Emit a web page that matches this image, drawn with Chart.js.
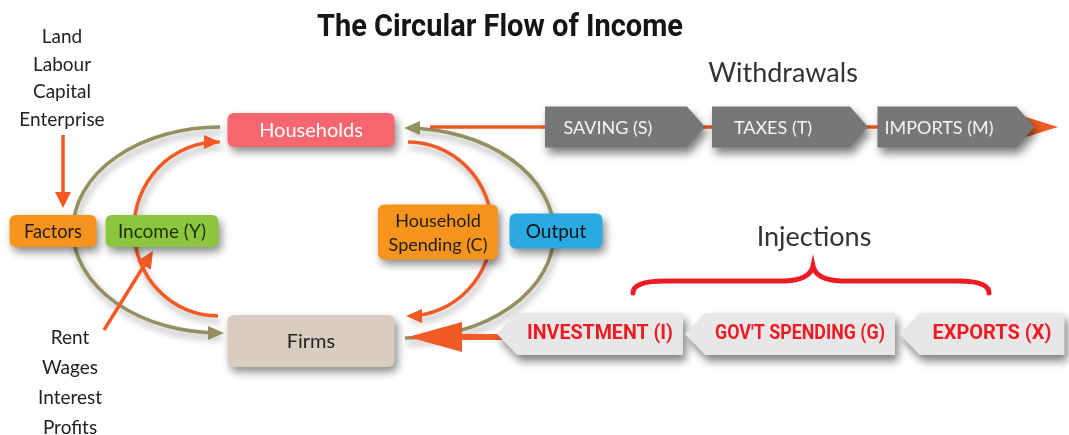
<!DOCTYPE html>
<html>
<head>
<meta charset="utf-8">
<script src="https://cdn.jsdelivr.net/npm/chart.js@4.4.1/dist/chart.umd.min.js"></script>
<style>
    html, body { margin: 0; padding: 0; background: #fff; }
    #wrap { width: 1069px; height: 435px; }
</style>
</head>
<body>
<div id="wrap"><canvas id="fluxo" width="1069" height="435"></canvas></div>
<script>
// Caixas do diagrama (centros, em unidades do diagrama 0..1069 x 0..435)
const caixas = ['Households', 'Firms', 'Factors', 'Income (Y)', 'Household|Spending (C)', 'Output'];
const caixasX = [311, 311, 53, 162, 438, 556];
const caixasY = [130, 341, 231, 231, 232, 231];

// Retiradas (withdrawals) e injeções
const retiradas = ['SAVING (S)', 'TAXES (T)', 'IMPORTS (M)'];
const retiradasX = [616, 781, 947];
const retiradasY = [127, 127, 127];

const injecoes = ['INVESTMENT (I)', "GOV'T SPENDING (G)", 'EXPORTS (X)'];
const injecoesX = [600, 800, 992];
const injecoesY = [334, 334, 334];

// Textos soltos
const fatores = ['Land', 'Labour', 'Capital', 'Enterprise'];
const rendas = ['Rent', 'Wages', 'Interest', 'Profits'];
const titulo = 'The Circular Flow of Income';

// estilo das caixas (largura, altura, cor de fundo, cor do texto)
const estiloCaixas = [
    { w: 167, h: 34, fundo: '#f8676f', texto: '#ffffff', fonte: '20px Lato', maxW: 110 },
    { w: 167, h: 52, fundo: '#d9cdbf', texto: '#222222', fonte: '20px Lato', maxW: 60 },
    { w: 87, h: 32, fundo: '#f7941e', texto: '#1e1e1e', fonte: '19px Lato', maxW: 58 },
    { w: 113, h: 32, fundo: '#8cc63f', texto: '#1f2f10', fonte: '19px Lato', maxW: 92 },
    { w: 120, h: 55, fundo: '#f7941e', texto: '#1e1e1e', fonte: '18px Lato', maxW: 104 },
    { w: 93, h: 35, fundo: '#29abe2', texto: '#111111', fonte: '19px Lato', maxW: 62 }
];
const largRetiradas = [142, 138, 139];
const largInjecoes = [166, 190, 145];

const LARANJA = '#f15a24';
const OLIVA = '#958f60';

function caixa(ctx, x, y, w, h, cor) {
    ctx.save();
    ctx.shadowColor = 'rgba(0,0,0,0.45)';
    ctx.shadowBlur = 9;
    ctx.shadowOffsetX = 3;
    ctx.shadowOffsetY = 5;
    ctx.fillStyle = cor;
    ctx.beginPath();
    ctx.roundRect(x - w / 2, y - h / 2, w, h, 6);
    ctx.fill();
    ctx.restore();
}

function seta(ctx, x, y, dx, dy, tam, larg, cor) {
    // ponta em (x,y), direção (dx,dy)
    const n = Math.hypot(dx, dy);
    const ux = dx / n, uy = dy / n;
    ctx.fillStyle = cor;
    ctx.beginPath();
    ctx.moveTo(x, y);
    ctx.lineTo(x - ux * tam - uy * larg, y - uy * tam + ux * larg);
    ctx.lineTo(x - ux * tam + uy * larg, y - uy * tam - ux * larg);
    ctx.closePath();
    ctx.fill();
}

function arco(ctx, cx, cy, rx, ry, ini, fim, anti, cor) {
    ctx.save();
    ctx.shadowColor = 'rgba(0,0,0,0.35)';
    ctx.shadowBlur = 7;
    ctx.shadowOffsetX = 2;
    ctx.shadowOffsetY = 5;
    ctx.strokeStyle = cor;
    ctx.lineWidth = 3.5;
    ctx.beginPath();
    ctx.ellipse(cx, cy, rx, ry, 0, ini, fim, anti);
    ctx.stroke();
    ctx.restore();
}

const desenhoPlugin = {
    id: 'desenho',
    afterDatasetsDraw(chart) {
        const ctx = chart.ctx;
        const sx = chart.scales.x, sy = chart.scales.y;
        const px = v => sx.getPixelForValue(v);
        const py = v => sy.getPixelForValue(v);
        ctx.save();
        ctx.textAlign = 'center';
        ctx.textBaseline = 'middle';

        // título
        ctx.fillStyle = '#151515';
        ctx.font = 'bold 31px Roboto';
        ctx.fillText(titulo, px(500), py(28), 366);

        // fatores de produção
        ctx.fillStyle = '#222';
        ctx.font = '19px Lato';
        fatores.forEach((t, i) => ctx.fillText(t, px(62), py(37 + i * 27.5)));
        rendas.forEach((t, i) => ctx.fillText(t, px(70), py(338 + i * 30)));

        // arcos
        arco(ctx, px(220), py(230), 147, 103, -Math.PI / 2, Math.PI / 2, true, OLIVA);
        seta(ctx, px(224), py(333), 1, 0, 16, 7, OLIVA);
        arco(ctx, px(218), py(229), 84, 87, Math.PI / 2, -Math.PI / 2 + 0.02, false, LARANJA);
        seta(ctx, px(220), py(142), 1, 0, 16, 7, LARANJA);
        arco(ctx, px(408), py(229), 84, 87, -Math.PI / 2, Math.PI / 2 - 0.02, false, LARANJA);
        seta(ctx, px(406), py(316), -1, 0, 16, 7, LARANJA);
        arco(ctx, px(405), py(233), 149, 105, Math.PI / 2, -Math.PI / 2 + 0.02, true, OLIVA);
        seta(ctx, px(404), py(128), -1, 0, 16, 7, OLIVA);

        // seta vertical "Land..." -> Factors
        ctx.strokeStyle = LARANJA;
        ctx.lineWidth = 3.5;
        ctx.beginPath();
        ctx.moveTo(px(63), py(135));
        ctx.lineTo(px(63), py(195));
        ctx.stroke();
        seta(ctx, px(63), py(208), 0, 1, 16, 8, LARANJA);
        // seta "Rent..." -> Income
        ctx.beginPath();
        ctx.moveTo(px(104), py(330));
        ctx.lineTo(px(145), py(264));
        ctx.stroke();
        seta(ctx, px(153), py(251), 41, -66, 17, 8, LARANJA);

        // linha das retiradas
        ctx.lineWidth = 3.5;
        ctx.beginPath();
        ctx.moveTo(px(430), py(127));
        ctx.lineTo(px(1030), py(127));
        ctx.stroke();
        seta(ctx, px(1058), py(127), 1, 0, 32, 10, LARANJA);

        // seta das injeções
        ctx.lineWidth = 6;
        ctx.beginPath();
        ctx.moveTo(px(455), py(337));
        ctx.lineTo(px(505), py(337));
        ctx.stroke();
        seta(ctx, px(408), py(337), -1, 0, 54, 15, LARANJA);

        // caixas
        const meta = chart.getDatasetMeta(0);
        caixas.forEach((t, i) => {
            const p = meta.data[i];
            const e = estiloCaixas[i];
            caixa(ctx, p.x, p.y, e.w, e.h, e.fundo);
            ctx.fillStyle = e.texto;
            ctx.font = e.fonte;
            const linhas = t.split('|');
            linhas.forEach((l, k) => ctx.fillText(l, p.x, p.y + 1 + (k - (linhas.length - 1) / 2) * 24, e.maxW));
        });

        // retiradas (pentágonos apontando para a direita)
        const metaR = chart.getDatasetMeta(1);
        retiradas.forEach((t, i) => {
            const p = metaR.data[i];
            const w = largRetiradas[i], h = 41, ponta = 18;
            ctx.save();
            ctx.shadowColor = 'rgba(0,0,0,0.5)';
            ctx.shadowBlur = 8;
            ctx.shadowOffsetX = 3;
            ctx.shadowOffsetY = 6;
            ctx.fillStyle = '#777777';
            ctx.beginPath();
            ctx.moveTo(p.x - w / 2, p.y - h / 2);
            ctx.lineTo(p.x + w / 2, p.y - h / 2);
            ctx.lineTo(p.x + w / 2 + ponta, p.y);
            ctx.lineTo(p.x + w / 2, p.y + h / 2);
            ctx.lineTo(p.x - w / 2, p.y + h / 2);
            ctx.closePath();
            ctx.fill();
            ctx.restore();
            ctx.fillStyle = '#f4f4f4';
            ctx.font = '18px Lato';
            ctx.fillText(t, p.x - 8, p.y + 1, w - 30);
        });

        // injeções (pentágonos apontando para a esquerda)
        const metaI = chart.getDatasetMeta(2);
        injecoes.forEach((t, i) => {
            const p = metaI.data[i];
            const w = largInjecoes[i], h = 42, ponta = 20;
            ctx.save();
            ctx.shadowColor = 'rgba(0,0,0,0.5)';
            ctx.shadowBlur = 8;
            ctx.shadowOffsetX = 3;
            ctx.shadowOffsetY = 6;
            ctx.fillStyle = '#e7e7e7';
            ctx.beginPath();
            ctx.moveTo(p.x - w / 2, p.y - h / 2);
            ctx.lineTo(p.x + w / 2, p.y - h / 2);
            ctx.lineTo(p.x + w / 2, p.y + h / 2);
            ctx.lineTo(p.x - w / 2, p.y + h / 2);
            ctx.lineTo(p.x - w / 2 - ponta, p.y);
            ctx.closePath();
            ctx.fill();
            ctx.restore();
            ctx.fillStyle = '#ed1c24';
            ctx.font = 'bold 20px Roboto';
            ctx.fillText(t, p.x, p.y, w - 20);
        });

        // rótulos dos grupos
        ctx.fillStyle = '#333';
        ctx.font = '27px Lato';
        ctx.fillText('Withdrawals', px(783), py(73));
        ctx.fillText('Injections', px(814), py(237));

        // chave vermelha
        ctx.strokeStyle = '#ed1c24';
        ctx.lineWidth = 5;
        ctx.lineCap = 'round';
        ctx.beginPath();
        ctx.moveTo(px(633), py(293));
        ctx.quadraticCurveTo(px(633), py(281), px(665), py(281));
        ctx.lineTo(px(785), py(281));
        ctx.quadraticCurveTo(px(810), py(280), px(813), py(266));
        ctx.quadraticCurveTo(px(816), py(280), px(841), py(281));
        ctx.lineTo(px(958), py(281));
        ctx.quadraticCurveTo(px(989), py(281), px(989), py(293));
        ctx.stroke();

        ctx.restore();
    }
};

const pontos = (xs, ys) => xs.map((x, i) => ({ x: x, y: ys[i] }));

new Chart(document.getElementById('fluxo').getContext('2d'), {
    type: 'scatter',
    data: {
        datasets: [
            { label: 'Caixas', data: pontos(caixasX, caixasY), pointRadius: 0 },
            { label: 'Retiradas', data: pontos(retiradasX, retiradasY), pointRadius: 0 },
            { label: 'Injeções', data: pontos(injecoesX, injecoesY), pointRadius: 0 }
        ]
    },
    options: {
        responsive: false,
        animation: false,
        layout: { padding: 0 },
        plugins: { legend: { display: false }, tooltip: { enabled: false }, title: { display: false } },
        scales: {
            x: { type: 'linear', min: 0, max: 1069, display: false },
            y: { type: 'linear', min: 0, max: 435, reverse: true, display: false }
        }
    },
    plugins: [desenhoPlugin]
});
</script>
</body>
</html>
